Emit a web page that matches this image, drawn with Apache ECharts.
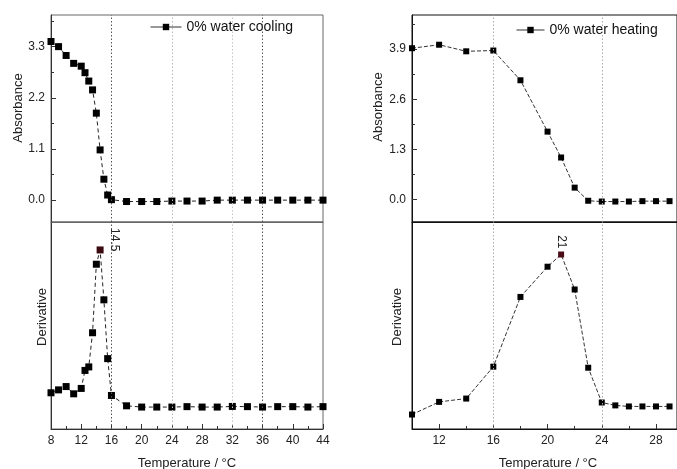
<!DOCTYPE html>
<html>
<head>
<meta charset="utf-8">
<script src="https://cdn.jsdelivr.net/npm/echarts@6/dist/echarts.min.js"></script>
<style>html,body{margin:0;padding:0;background:#fff;}#c{width:677px;height:469px;}</style>
</head>
<body>
<div id="c"></div>
<script>
// ---- data ----
var coolT   = [8,9,10,11,12,12.5,13,13.5,14,14.5,15,15.5,16,18,20,22,24,26,28,30,32,34,36,38,40,42,44];
var coolAbs = [3.41,3.30,3.11,2.94,2.88,2.74,2.56,2.37,1.87,1.08,0.45,0.11,0.01,-0.03,-0.03,-0.03,-0.02,-0.02,-0.02,0.00,0.00,0.00,0.00,0.00,0.00,0.00,0.00];
var coolDer = [17.5,18.9,20.5,17.0,19.6,28.3,30.0,46.5,79.6,86.5,62.4,34.0,16.2,11.2,10.6,10.6,10.6,10.8,10.6,10.6,10.9,10.8,10.6,10.8,10.8,10.6,10.8];
var heatT   = [10,12,14,16,18,20,21,22,23,24,25,26,27,28,29];
var heatAbs = [3.92,4.01,3.84,3.86,3.09,1.76,1.09,0.31,-0.03,-0.05,-0.05,-0.05,-0.04,-0.04,-0.04];
var heatDer = [7.0,13.1,14.7,30.1,63.8,78.4,84.3,67.4,29.6,12.8,11.4,10.9,10.9,10.9,10.9];
var coolPeak = 14.5, heatPeak = 21;
var coolXTicks = [8,12,16,20,24,28,32,36,40,44];
var heatXTicks = [12,16,20,24,28];
var heatXMinor = [14,18,22,26];
var coolYTicks = [0,1.1,2.2,3.3];
var coolYMinor = [0.55,1.65,2.75,3.85];
var heatYTicks = [0,1.3,2.6,3.9];
var heatYMinor = [0.65,1.95,3.25,4.55];
var coolRefLines = [16,24,32,36];
var heatRefLines = [16,24];
var coolName = '0% water cooling', heatName = '0% water heating';

var FONT = 'Liberation Sans';
function pairs(xs, ys, peakX, labelOpt, peakColor) {
  return xs.map(function (x, i) {
    if (peakX !== undefined && x === peakX) {
      return { value: [x, ys[i]], itemStyle: { color: peakColor }, label: labelOpt };
    }
    return [x, ys[i]];
  });
}
function refLines(vals, colors) {
  return {
    silent: true, symbol: 'none', label: { show: false },
    data: vals.map(function (v, i) {
      return { xAxis: v, lineStyle: { color: colors[i], type: [1.5, 2], width: 1 } };
    })
  };
}
var coolLineCols = ['#555', '#bbb', '#c4c4c4', '#555'];
var heatLineCols = ['#aaa', '#aaa'];

var chart = echarts.init(document.getElementById('c'));
var axisLblStyle = { color: '#222', fontSize: 12, fontFamily: FONT };

function xAx(grid, min, max, isBottom, labelVals, tickVals, lineColor) {
  var o = {
    type: 'value', gridIndex: grid, min: min, max: max, position: 'bottom',
    splitLine: { show: false },
    axisLine: { show: true, onZero: false, lineStyle: { color: lineColor, width: 1 } },
    axisTick: { show: isBottom, inside: true, length: 5, lineStyle: { color: '#333' }, customValues: tickVals },
    axisLabel: { show: isBottom, margin: 6, customValues: labelVals }
  };
  Object.assign(o.axisLabel, axisLblStyle);
  return o;
}
function yAx(grid, min, max, labelVals, tickVals, lineColor, showLbl) {
  var o = {
    type: 'value', gridIndex: grid, min: min, max: max, position: 'left',
    splitLine: { show: false },
    axisLine: { show: true, onZero: false, lineStyle: { color: lineColor, width: 1 } },
    axisTick: { show: showLbl, inside: true, length: 5, lineStyle: { color: '#333' }, customValues: tickVals },
    axisLabel: { show: showLbl, margin: 6, customValues: labelVals, formatter: function (v) { return v.toFixed(1); } }
  };
  Object.assign(o.axisLabel, axisLblStyle);
  return o;
}
function minorX(grid, min, max, vals) {
  return { type: 'value', gridIndex: grid, min: min, max: max, position: 'bottom',
    axisLine: { show: false }, splitLine: { show: false }, axisLabel: { show: false },
    axisTick: { show: true, inside: true, length: 3, lineStyle: { color: '#333' }, customValues: vals } };
}
function minorY(grid, min, max, vals) {
  return { type: 'value', gridIndex: grid, min: min, max: max, position: 'left',
    axisLine: { show: false }, splitLine: { show: false }, axisLabel: { show: false },
    axisTick: { show: true, inside: true, length: 3, lineStyle: { color: '#333' }, customValues: vals } };
}

var lineStyleL = { color: '#222', width: 1, type: [4, 3] };
var lineStyleR = { color: '#333', width: 1, type: [4, 2] };

var peakLabelCool = { show: true, formatter: String(coolPeak), position: 'top', rotate: -90,
  align: 'right', verticalAlign: 'middle', distance: 0, offset: [5, -14],
  color: '#222', fontSize: 12, fontFamily: FONT };
var peakLabelHeat = { show: true, formatter: String(heatPeak), position: 'top', rotate: -90,
  align: 'right', verticalAlign: 'middle', distance: 3,
  color: '#222', fontSize: 12, fontFamily: FONT };

var legendCommon = {
  padding: 0, itemHeight: 8, selectedMode: false,
  textStyle: { color: '#111', fontSize: 14, fontFamily: FONT },
  itemStyle: { color: '#000', borderWidth: 0 },
  lineStyle: { type: 'solid', width: 1, color: '#333' }
};

var option = {
  animation: false,
  backgroundColor: '#fff',
  textStyle: { fontFamily: FONT },
  grid: [
    { left: 51, top: 15, width: 272, height: 207, show: true, borderColor: '#666', borderWidth: 1, backgroundColor: 'transparent' },
    { left: 51, top: 222, width: 272, height: 207, show: true, borderColor: '#666', borderWidth: 1, backgroundColor: 'transparent' },
    { left: 412, top: 15, width: 268, height: 207, show: true, borderColor: '#111', borderWidth: 1, backgroundColor: 'transparent' },
    { left: 412, top: 222, width: 268, height: 207, show: true, borderColor: '#111', borderWidth: 1, backgroundColor: 'transparent' }
  ],
  xAxis: [
    xAx(0, 8, 44, false, coolXTicks, coolXTicks, '#666'),
    xAx(1, 8, 44, true, coolXTicks, coolXTicks, '#333'),
    xAx(2, 10, 29.55, false, heatXTicks, heatXTicks, '#111'),
    xAx(3, 10, 29.55, true, heatXTicks, heatXTicks, '#111'),
    minorX(1, 8, 44, coolXTicks.slice(0, -1).map(function (v) { return v + 2; })),
    minorX(3, 10, 29.55, heatXMinor)
  ],
  yAxis: [
    yAx(0, -0.47, 3.98, coolYTicks, coolYTicks, '#333', true),
    yAx(1, 0, 100, [], [], '#333', false),
    yAx(2, -0.58, 4.78, heatYTicks, heatYTicks, '#111', true),
    yAx(3, 0, 100, [], [], '#111', false),
    minorY(0, -0.47, 3.98, coolYMinor),
    minorY(2, -0.58, 4.78, heatYMinor)
  ],
  legend: [
    Object.assign({ data: [coolName], left: 150, top: 20, itemWidth: 31 }, legendCommon),
    Object.assign({ data: [heatName], left: 516, top: 23, itemWidth: 28 }, legendCommon)
  ],
  graphic: [
    { type: 'text', x: 18, y: 108, rotation: Math.PI / 2, style: { text: 'Absorbance', fill: '#222', fontSize: 13, fontFamily: FONT, align: 'center', verticalAlign: 'middle' } },
    { type: 'text', x: 42, y: 317, rotation: Math.PI / 2, style: { text: 'Derivative', fill: '#222', fontSize: 13, fontFamily: FONT, align: 'center', verticalAlign: 'middle' } },
    { type: 'text', x: 378, y: 107, rotation: Math.PI / 2, style: { text: 'Absorbance', fill: '#222', fontSize: 13, fontFamily: FONT, align: 'center', verticalAlign: 'middle' } },
    { type: 'text', x: 397, y: 317, rotation: Math.PI / 2, style: { text: 'Derivative', fill: '#222', fontSize: 13, fontFamily: FONT, align: 'center', verticalAlign: 'middle' } },
    { type: 'text', x: 187, y: 463, style: { text: 'Temperature / °C', fill: '#222', fontSize: 13, fontFamily: FONT, align: 'center', verticalAlign: 'middle' } },
    { type: 'text', x: 548, y: 463, style: { text: 'Temperature / °C', fill: '#222', fontSize: 13, fontFamily: FONT, align: 'center', verticalAlign: 'middle' } }
  ],
  series: [
    { name: coolName, type: 'line', xAxisIndex: 0, yAxisIndex: 0, data: pairs(coolT, coolAbs),
      symbol: 'rect', symbolSize: 7, itemStyle: { color: '#000' }, lineStyle: lineStyleL,
      markLine: refLines(coolRefLines, coolLineCols) },
    { name: 'cool-der', type: 'line', xAxisIndex: 1, yAxisIndex: 1,
      data: pairs(coolT, coolDer, coolPeak, peakLabelCool, '#3a0a10'),
      symbol: 'rect', symbolSize: 7, itemStyle: { color: '#000' }, lineStyle: lineStyleL,
      markLine: refLines(coolRefLines, coolLineCols) },
    { name: heatName, type: 'line', xAxisIndex: 2, yAxisIndex: 2, data: pairs(heatT, heatAbs),
      symbol: 'rect', symbolSize: 6, itemStyle: { color: '#000' }, lineStyle: lineStyleR,
      markLine: refLines(heatRefLines, heatLineCols) },
    { name: 'heat-der', type: 'line', xAxisIndex: 3, yAxisIndex: 3,
      data: pairs(heatT, heatDer, heatPeak, peakLabelHeat, '#4a0d18'),
      symbol: 'rect', symbolSize: 6, itemStyle: { color: '#000' }, lineStyle: lineStyleR,
      markLine: refLines(heatRefLines, heatLineCols) }
  ]
};
chart.setOption(option);
</script>
</body>
</html>
